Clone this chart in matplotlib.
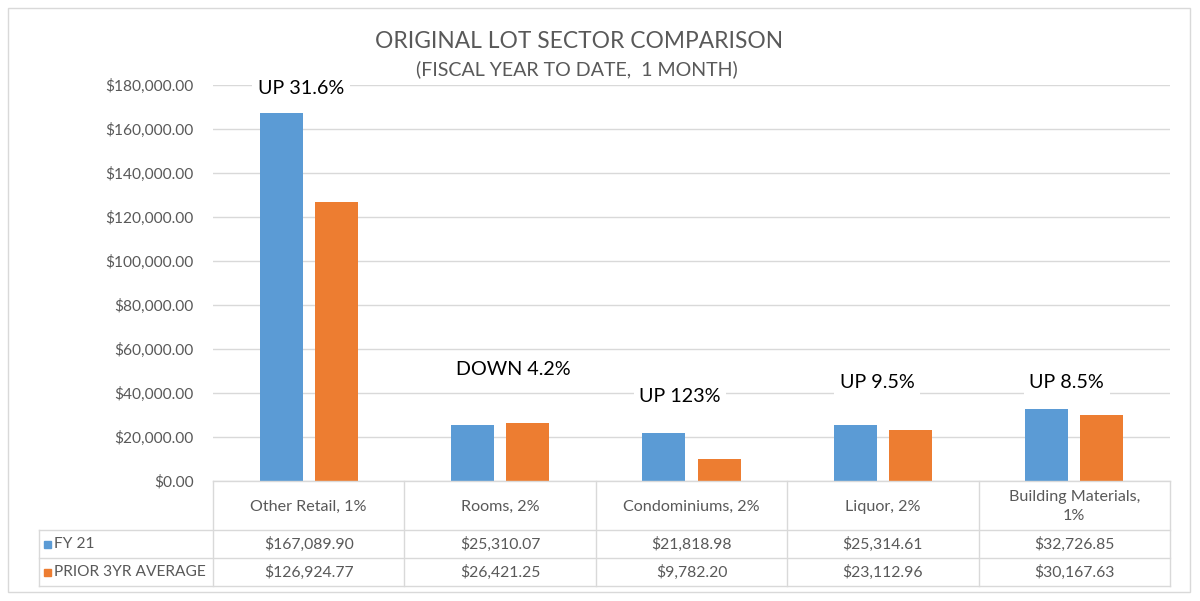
import matplotlib.pyplot as plt
from matplotlib.patches import Rectangle
import numpy as np

# ===== data =====
categories = ['Other Retail, 1%', 'Rooms, 2%', 'Condominiums, 2%', 'Liquor, 2%', 'Building Materials,\n1%']
series_names = ['FY 21', 'PRIOR 3YR AVERAGE']
fy21 = [167089.90, 25310.07, 21818.98, 25314.61, 32726.85]
prior3yr = [126924.77, 26421.25, 9782.20, 23112.96, 30167.63]
change_labels = ['UP 31.6%', 'DOWN 4.2%', 'UP 123%', 'UP 9.5%', 'UP 8.5%']
yticks = np.arange(0, 180001, 20000)

# label placement (category offset, y value)
label_dx = [-0.04, 0.07, -0.06, -0.03, -0.04]
label_y = [178600, 50900, 38200, 45000, 45000]

plt.rcParams['font.family'] = ['Lato', 'DejaVu Sans']
blue, orange = '#5B9BD5', '#ED7D31'
gray_txt = '#595959'
grid_c = '#D9D9D9'

W, H = 1200, 601
fig = plt.figure(figsize=(12, 6.01), dpi=100)

# plot area in pixels
L, R, T, B = 213, 1170, 85, 481
ax = fig.add_axes([L / W, 1 - B / H, (R - L) / W, (B - T) / H])
x = np.arange(len(categories))
w = 0.225
ax.bar(x - 0.144, fy21, w, color=blue, zorder=3)
ax.bar(x + 0.144, prior3yr, w, color=orange, zorder=3)
ax.set_xlim(-0.5, len(categories) - 0.5)
ax.set_ylim(0, 180000)
ax.set_yticks(yticks)
ax.set_yticklabels([f'${v:,.2f}' for v in yticks], color=gray_txt, fontsize=11.2)
ax.tick_params(axis='y', length=0, pad=14)
ax.set_xticks([])
ax.grid(axis='y', color=grid_c, linewidth=1, zorder=0)
for s in ax.spines.values():
    s.set_visible(False)

for i, lab in enumerate(change_labels):
    ax.text(i + label_dx[i], label_y[i], lab, ha='center', va='center', fontsize=14.2, color='black',
            bbox=dict(facecolor='white', edgecolor='none', pad=4), zorder=5)

# ===== overlay for title, table and border (pixel coords) =====
ov = fig.add_axes([0, 0, 1, 1], zorder=-1)
ov.set_xlim(0, W)
ov.set_ylim(H, 0)
ov.axis('off')
ov.add_patch(Rectangle((8, 8), 1182, 584, fill=False, edgecolor=grid_c, linewidth=1))

top_ov = fig.add_axes([0, 0, 1, 1], zorder=10)
top_ov.set_xlim(0, W)
top_ov.set_ylim(H, 0)
top_ov.axis('off')
top_ov.text(579, 41, 'ORIGINAL LOT SECTOR COMPARISON', ha='center', va='center', fontsize=16.4,
            color=gray_txt, bbox=dict(facecolor='white', edgecolor='none', pad=2))
top_ov.text(577, 69, '(FISCAL YEAR TO DATE,  1 MONTH)', ha='center', va='center', fontsize=14.1,
            color=gray_txt, bbox=dict(facecolor='white', edgecolor='none', pad=3))

# data table
col_w = (R - L) / len(categories)
row_top, row1, row2, row_bot = B, 530, 558, 586
tab_left = 39
lc = '#D9D9D9'
top_ov.plot([L, R], [row_top, row_top], color=lc, lw=1)
for yy in (row1, row2, row_bot):
    top_ov.plot([tab_left, R], [yy, yy], color=lc, lw=1)
for i in range(len(categories) + 1):
    top_ov.plot([L + i * col_w] * 2, [row_top, row_bot], color=lc, lw=1)
top_ov.plot([tab_left, tab_left], [row1, row_bot], color=lc, lw=1)

for i, cat in enumerate(categories):
    cx = L + (i + 0.5) * col_w
    top_ov.text(cx, (row_top + row1) / 2 + 1, cat, ha='center', va='center', fontsize=11.6,
                color=gray_txt, linespacing=1.45)
    top_ov.text(cx, (row1 + row2) / 2 + 0.5, f'${fy21[i]:,.2f}', ha='center', va='center',
                fontsize=11.3, color=gray_txt)
    top_ov.text(cx, (row2 + row_bot) / 2 + 0.5, f'${prior3yr[i]:,.2f}', ha='center', va='center',
                fontsize=11.3, color=gray_txt)

for name, col, (y0, y1) in zip(series_names, (blue, orange), ((row1, row2), (row2, row_bot))):
    yc = (y0 + y1) / 2
    top_ov.add_patch(Rectangle((44, yc - 3.5), 7, 7, color=col))
    top_ov.text(54, yc + 0.5, name, ha='left', va='center', fontsize=11.2, color=gray_txt)

fig.savefig('out.png', dpi=100, facecolor='white')
